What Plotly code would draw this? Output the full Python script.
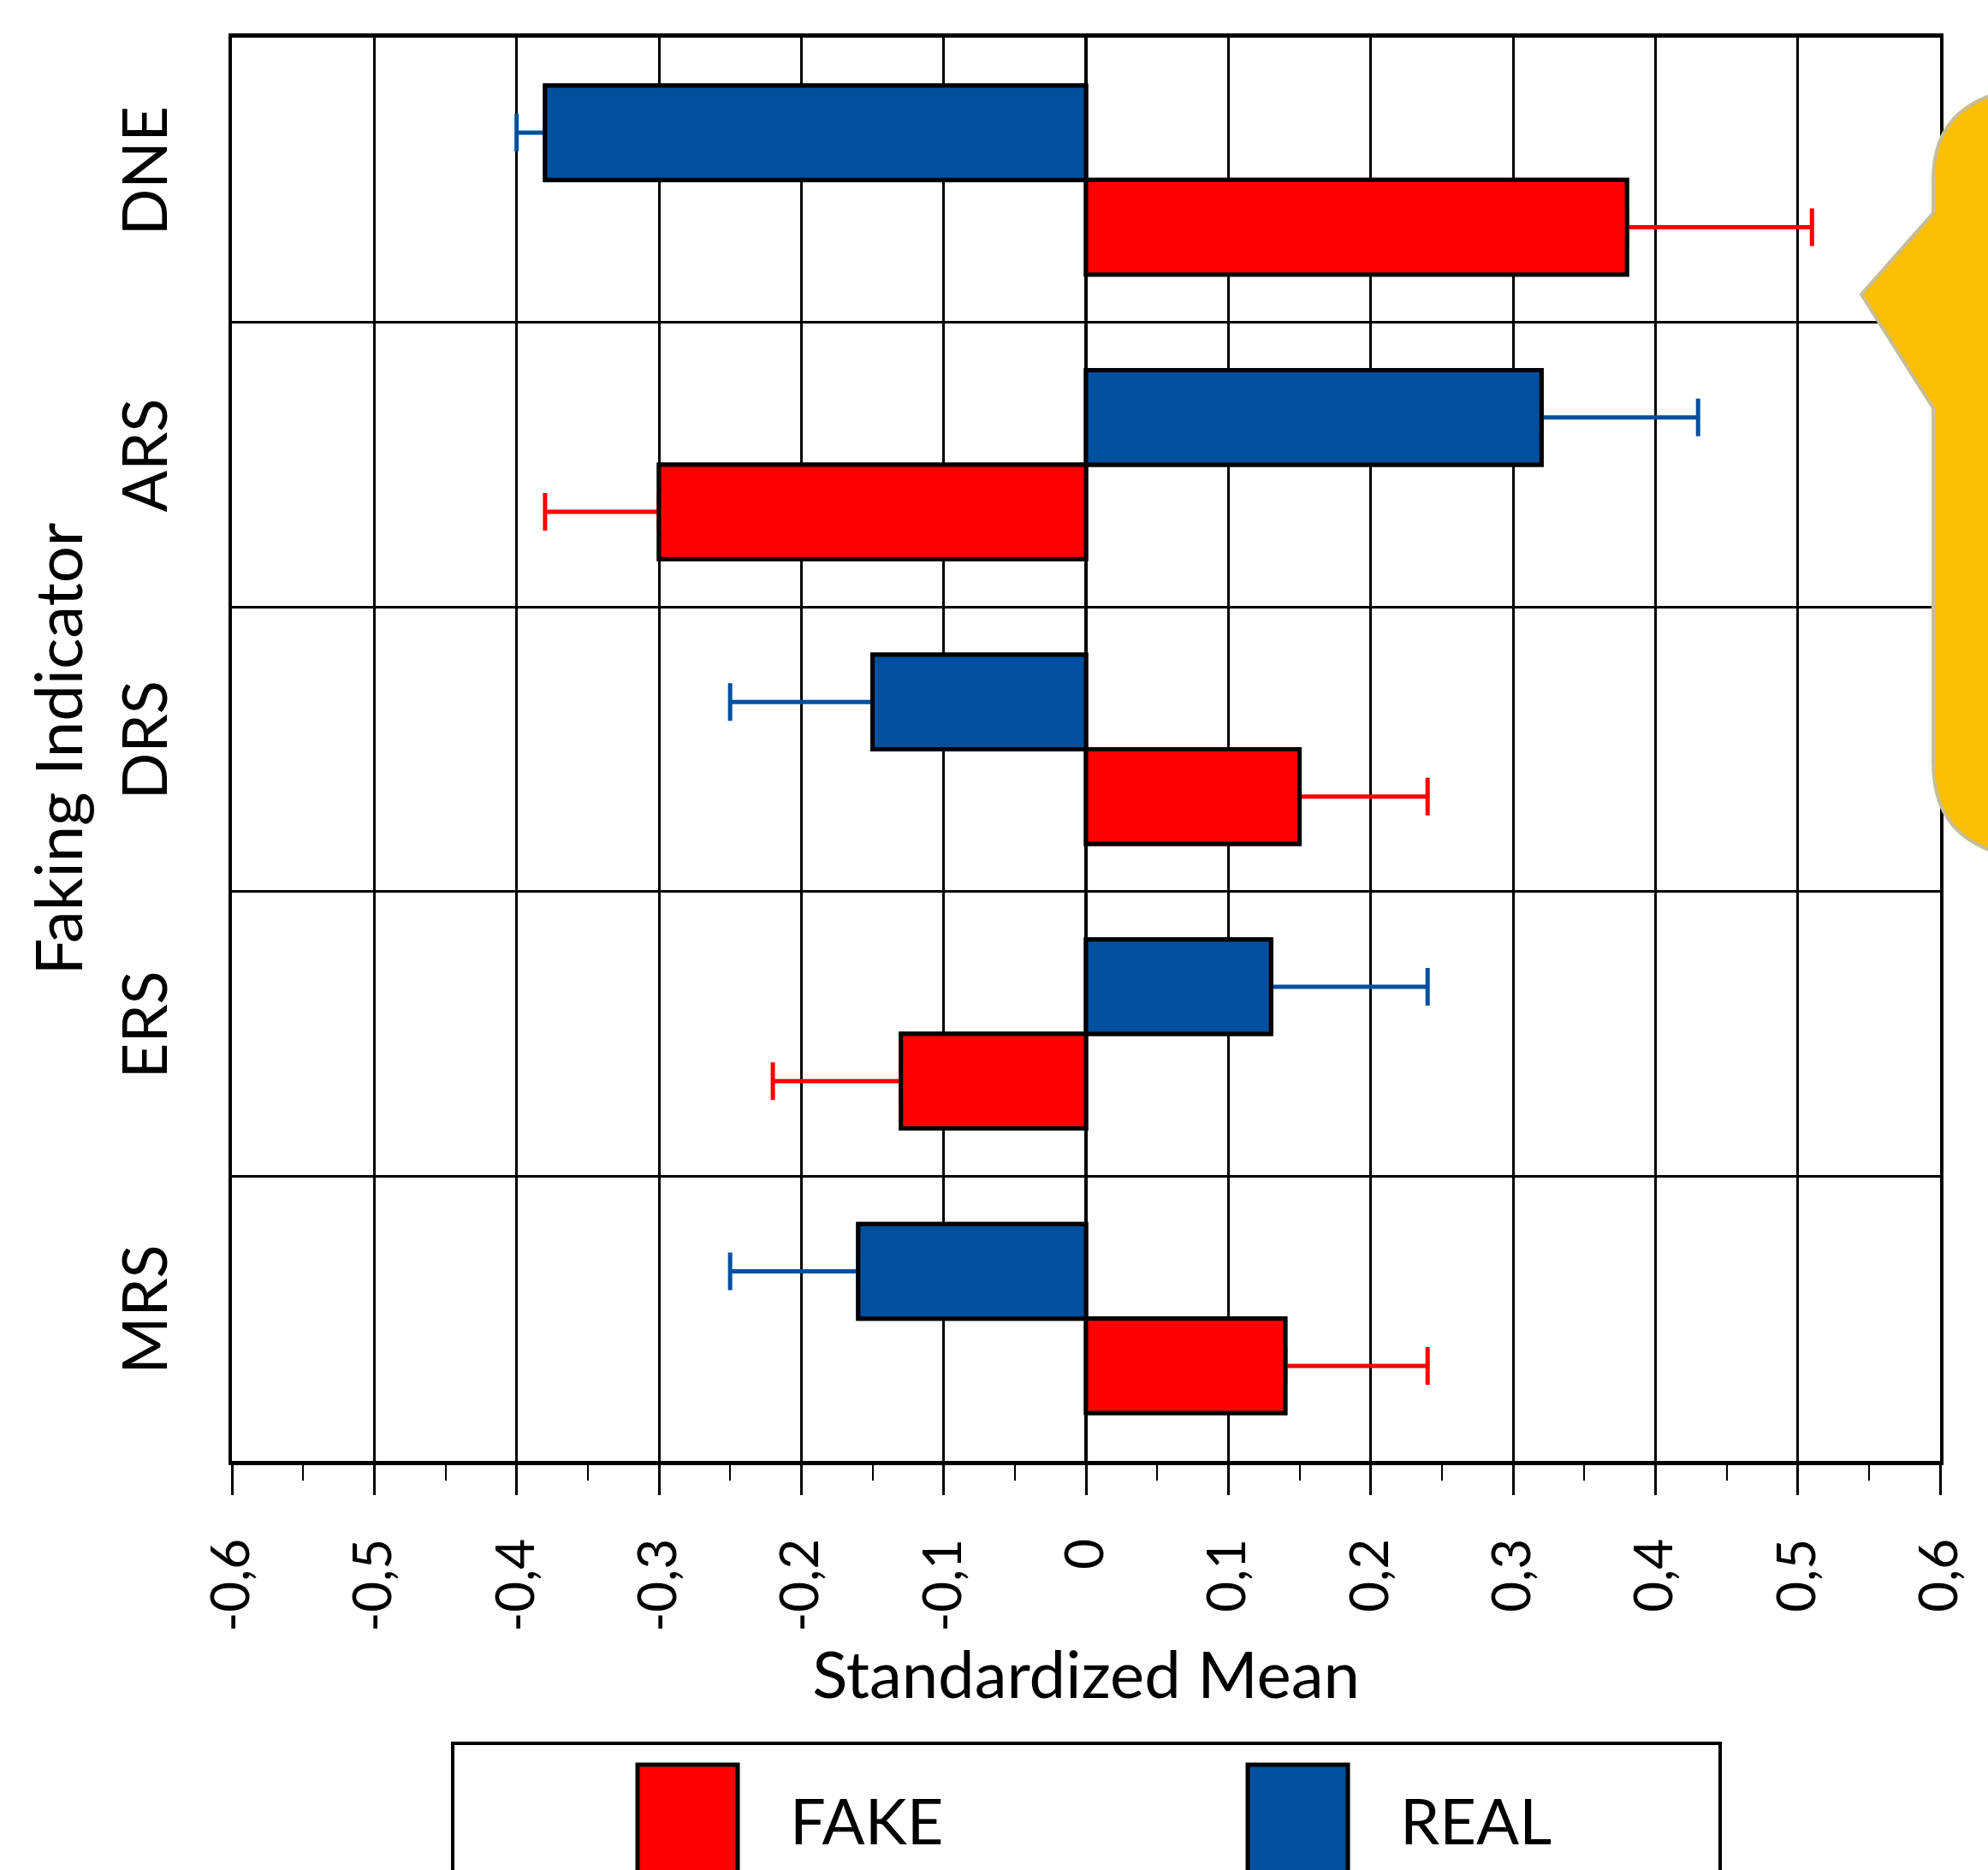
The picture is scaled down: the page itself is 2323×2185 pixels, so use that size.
import plotly.graph_objects as go

# ---------------- data ----------------
categories = ["DNE", "ARS", "DRS", "ERS", "MRS"]
series_names = ["FAKE", "REAL"]
fake_mean = [0.38, -0.30, 0.15, -0.13, 0.14]
fake_err = [0.13, 0.08, 0.09, 0.09, 0.10]
real_mean = [-0.38, 0.32, -0.15, 0.13, -0.16]
real_err = [0.02, 0.11, 0.10, 0.11, 0.09]
x_tickvals = [-0.6, -0.5, -0.4, -0.3, -0.2, -0.1, 0.0, 0.1, 0.2, 0.3, 0.4, 0.5, 0.6]
x_ticktext = ["-0,6", "-0,5", "-0,4", "-0,3", "-0,2", "-0,1", "0",
              "0,1", "0,2", "0,3", "0,4", "0,5", "0,6"]
x_title = "Standardized Mean"
y_title = "Faking Indicator"

# ---------------- styles ----------------
RED = "#FF0000"
BLUE = "#00509F"
FONT = "Lato"
W, H = 2323, 2185
PLOT_L, PLOT_R, PLOT_T, PLOT_B = 271, 2267, 44, 1707
BAR_W = 0.332


def fx(px):
    return (px - PLOT_L) / (PLOT_R - PLOT_L)


def fy(py):
    return (PLOT_B - py) / (PLOT_B - PLOT_T)


def one_sided(vals, errs):
    plus = [e if v >= 0 else 0 for v, e in zip(vals, errs)]
    minus = [e if v < 0 else 0 for v, e in zip(vals, errs)]
    return plus, minus


fig = go.Figure()

specs = [
    ("REAL", real_mean, real_err, BLUE, -BAR_W),
    ("FAKE", fake_mean, fake_err, RED, 0.0),
]

# bars with (one-sided) error bars
for name, vals, errs, col, off in specs:
    plus, minus = one_sided(vals, errs)
    fig.add_trace(go.Bar(
        name=name, y=categories, x=vals, orientation="h",
        width=BAR_W, offset=off,
        marker=dict(color=col, line=dict(color="black", width=5)),
        error_x=dict(type="data", symmetric=False, array=plus, arrayminus=minus,
                     color=col, thickness=5, width=22),
        showlegend=False,
    ))
# same bars again on top, hiding the zero-length inner cap
for name, vals, errs, col, off in specs:
    fig.add_trace(go.Bar(
        name=name, y=categories, x=vals, orientation="h",
        width=BAR_W, offset=off,
        marker=dict(color=col, line=dict(color="black", width=5)),
        showlegend=False, hoverinfo="skip",
    ))

shapes = []
# callout bubble (decoration at right)
pts = [
    ("M", [(2259, 477)]),
    ("L", [(2175, 344)]),
    ("L", [(2259, 249)]),
    ("L", [(2259, 210)]),
    ("C", [(2259, 140), (2300, 100), (2420, 96)]),
    ("L", [(2420, 1010)]),
    ("C", [(2300, 1005), (2259, 965), (2259, 891)]),
]
path = ""
for cmd, plist in pts:
    path += cmd + " " + " ".join(f"{fx(x):.5f},{fy(y):.5f}" for x, y in plist) + " "
path += "Z"
shapes.append(dict(type="path", xref="paper", yref="paper", path=path,
                   fillcolor="#FCBE00", line=dict(color="#C4BD97", width=4),
                   layer="above"))

# custom legend
shapes.append(dict(type="rect", xref="paper", yref="paper",
                   x0=fx(529), x1=fx(2010), y0=fy(2037), y1=fy(2300),
                   fillcolor="white", line=dict(color="black", width=4), layer="above"))
legend_cols = {"FAKE": RED, "REAL": BLUE}
legend_x = {"FAKE": (745, 862, 921), "REAL": (1458, 1575, 1634)}
annotations = []
for nm in series_names:
    x0, x1, xt = legend_x[nm]
    shapes.append(dict(type="rect", xref="paper", yref="paper",
                       x0=fx(x0), x1=fx(x1), y0=fy(2062), y1=fy(2300),
                       fillcolor=legend_cols[nm], line=dict(color="black", width=5),
                       layer="above"))
    annotations.append(dict(xref="paper", yref="paper", x=fx(xt), y=fy(2126),
                            xanchor="left", yanchor="middle", showarrow=False,
                            text=nm, font=dict(family=FONT, size=74, color="black")))

# y-axis title placed precisely
annotations.append(dict(xref="paper", yref="paper", x=fx(66), y=0.5,
                        xanchor="center", yanchor="middle", showarrow=False,
                        textangle=-90, text=y_title,
                        font=dict(family=FONT, size=76, color="black")))

fig.update_layout(
    width=W, height=H,
    margin=dict(l=PLOT_L, r=W - PLOT_R, t=PLOT_T, b=H - PLOT_B, pad=0, autoexpand=False),
    barmode="overlay",
    plot_bgcolor="white", paper_bgcolor="white",
    showlegend=False,
    font=dict(family=FONT, color="black", size=74),
    shapes=shapes, annotations=annotations,
)

fig.update_xaxes(
    range=[x_tickvals[0], x_tickvals[-1]],
    tickmode="array", tickvals=x_tickvals, ticktext=x_ticktext,
    tickangle=-90, tickfont=dict(family=FONT, size=62, color="black"),
    ticks="outside", ticklen=35, tickwidth=2.5, tickcolor="black",
    ticklabelstandoff=26,
    minor=dict(dtick=0.05, tick0=0, ticks="outside", ticklen=18, tickwidth=2,
               tickcolor="black", showgrid=False),
    showgrid=True, gridcolor="black", gridwidth=2.5,
    zeroline=True, zerolinecolor="black", zerolinewidth=4,
    showline=True, mirror=True, linecolor="black", linewidth=5,
    title=dict(text=x_title, font=dict(family=FONT, size=76, color="black"),
               standoff=26),
    automargin=False,
)

fig.update_yaxes(
    type="category", categoryorder="array", categoryarray=categories,
    range=[len(categories) - 0.5, -0.5],
    tickson="boundaries", ticks="", tickangle=-90,
    tickfont=dict(family=FONT, size=72, color="black"),
    ticklabelstandoff=43,
    showgrid=True, gridcolor="black", gridwidth=2.5,
    showline=True, mirror=True, linecolor="black", linewidth=4,
    automargin=False,
)

fig.write_html("out.html", config={"displayModeBar": False},
               post_script="document.body.style.margin='0';")
